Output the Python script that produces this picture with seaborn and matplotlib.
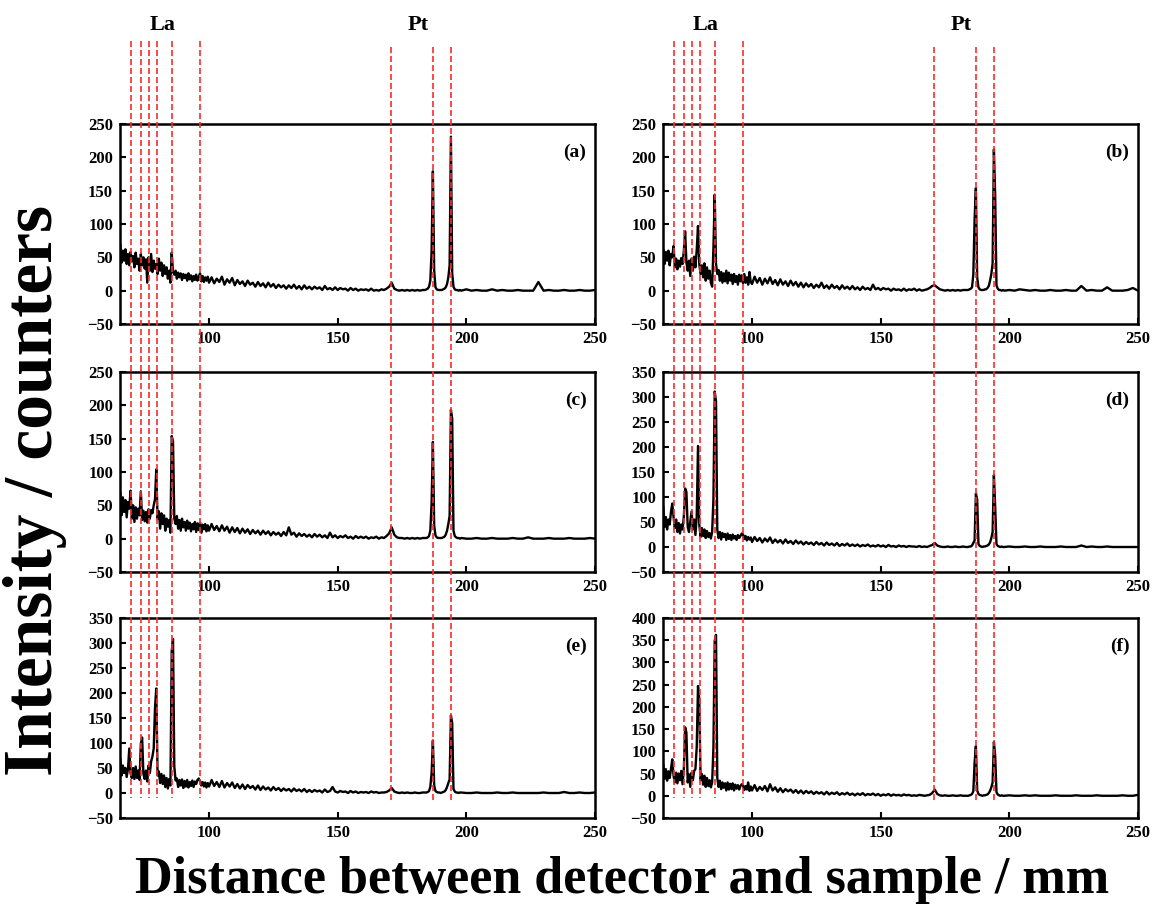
import numpy as np
import matplotlib
matplotlib.use("Agg")
import matplotlib.pyplot as plt
import matplotlib.transforms as mtransforms
from matplotlib.lines import Line2D
import seaborn as sns

# ---------------- data ----------------
# sampling positions of the spectra (distance, mm)
x_seg_a = np.arange(65.5, 100.0, 0.5)   # 69 points
x_seg_b = np.arange(100.0, 184.0, 1.0)  # 84 points
x_seg_c = np.arange(184.0, 198.0, 0.5)  # 28 points
x_seg_d = np.arange(198.0, 251.0, 2.0)  # 27 points
distance = np.concatenate([x_seg_a, x_seg_b, x_seg_c, x_seg_d])

intensity_a = [
    70, 42, 60, 45, 62, 40, 55, 38, 58, 44,
    52, 35, 57, 40, 48, 30, 55, 38, 50, 33,
    47, 12, 50, 30, 55, 28, 45, 33, 40, 25,
    48, 30, 42, 22, 38, 25, 35, 18, 30, 12,
    57, 28, 24, 30, 18, 27, 20, 26, 16, 25,
    19, 24, 15, 26, 17, 23, 14, 22, 16, 24,
    15, 21, 26, 14, 22, 13, 20, 15, 21,
    12, 20, 11, 18, 13, 21, 9, 17, 12, 19,
    8, 16, 10, 14, 7, 15, 9, 12, 6, 13,
    7, 11, 5, 12, 6, 10, 4, 9, 5, 8,
    3, 8, 4, 9, 3, 7, 2, 8, 3, 6,
    2, 6, 3, 5, 1, 7, 2, 4, 1, 5,
    1, 4, 2, 3, 0, 4, 1, 3, 0, 2,
    1, 2, 0, 3, 0, 1, 0, 2, 1, 3,
    6, 12, 3, 1, 0, 1, 0, 1, 0, 1,
    0, 1, 0, 1,
    1, 2, 3, 6, 15, 60, 179, 30, 5, 2,
    1, 1, 1, 1, 2, 3, 5, 10, 20, 38,
    231, 26, 6, 2, 1, 1, 0, 1,
    0, 2, 0, 1, 0, 0, 2, 0, 1, 0, 0, 1, 0, 0, 0, 13, 0, 1, 0, 0, 1, 0, 0, 1, 0, 0, 1,
]

intensity_b = [
    62, 40, 58, 45, 60, 38, 55, 50, 67, 35,
    48, 32, 45, 36, 49, 40, 60, 89, 42, 30,
    45, 22, 48, 30, 51, 35, 61, 97, 40, 25,
    38, 20, 41, 15, 35, 18, 30, 12, 6, 64,
    144, 40, 25, 31, 15, 28, 12, 26, 14, 30,
    11, 27, 15, 24, 10, 25, 13, 22, 9, 24,
    14, 23, 11, 25, 12, 20, 9, 28, 13,
    10, 21, 12, 19, 9, 18, 11, 20, 10, 16,
    8, 17, 9, 14, 7, 15, 8, 13, 6, 12,
    5, 11, 6, 10, 4, 9, 5, 12, 4, 8,
    3, 9, 4, 7, 2, 8, 3, 6, 2, 7,
    2, 5, 1, 6, 2, 4, 1, 9, 2, 4,
    1, 4, 2, 3, 0, 3, 1, 2, 0, 3,
    0, 2, 1, 3, 0, 2, 0, 1, 2, 4,
    7, 8, 5, 2, 1, 0, 1, 0, 1, 0,
    1, 0, 1, 1,
    1, 2, 3, 5, 24, 107, 154, 20, 5, 2,
    1, 1, 1, 2, 2, 4, 7, 15, 25, 41,
    212, 142, 8, 3, 1, 1, 0, 1,
    0, 1, 0, 2, 1, 0, 1, 0, 0, 1, 0, 0, 1, 0, 0, 7, 0, 1, 0, 0, 5, 0, 0, 0, 1, 4, 0,
]

intensity_c = [
    70, 35, 62, 40, 58, 32, 55, 45, 72, 30,
    50, 25, 47, 30, 45, 35, 71, 28, 42, 26,
    40, 24, 44, 30, 43, 38, 50, 59, 104, 30,
    41, 15, 38, 22, 35, 12, 30, 18, 28, 9,
    154, 146, 30, 22, 34, 15, 28, 12, 30, 17,
    25, 12, 27, 15, 24, 11, 22, 14, 25, 10,
    23, 13, 24, 9, 21, 14, 22, 11, 20,
    12, 22, 13, 19, 11, 20, 12, 18, 9, 17,
    10, 16, 8, 15, 9, 14, 7, 13, 8, 12,
    6, 12, 7, 11, 5, 10, 6, 9, 4, 10,
    5, 17, 6, 9, 3, 8, 4, 7, 3, 6,
    2, 7, 3, 6, 2, 5, 1, 9, 2, 5,
    1, 4, 2, 5, 1, 3, 0, 4, 1, 3,
    1, 3, 0, 2, 1, 3, 0, 2, 1, 4,
    8, 17, 6, 2, 1, 1, 0, 1, 0, 1,
    0, 1, 0, 1,
    1, 1, 2, 4, 12, 54, 145, 20, 5, 2,
    1, 1, 1, 1, 2, 3, 6, 12, 22, 34,
    193, 180, 12, 4, 2, 1, 1, 0,
    1, 0, 0, 1, 0, 0, 1, 0, 0, 0, 1, 0, 0, 2, 0, 0, 0, 1, 0, 0, 0, 1, 0, 0, 0, 1, 0,
]

intensity_d = [
    81, 40, 60, 35, 55, 45, 70, 87, 60, 38,
    55, 30, 48, 27, 45, 35, 61, 117, 110, 40,
    30, 50, 71, 35, 55, 24, 60, 202, 45, 20,
    38, 22, 35, 18, 32, 20, 28, 17, 30, 97,
    311, 291, 34, 18, 30, 15, 28, 20, 26, 14,
    27, 16, 24, 14, 25, 17, 22, 14, 24, 18,
    22, 27, 25, 16, 22, 13, 20, 15, 19,
    10, 20, 12, 18, 9, 17, 11, 19, 8, 15,
    9, 14, 7, 15, 8, 12, 6, 13, 7, 11,
    5, 10, 6, 9, 4, 10, 5, 8, 3, 9,
    4, 7, 3, 8, 2, 6, 3, 7, 2, 5,
    2, 5, 1, 4, 2, 5, 1, 3, 1, 4,
    1, 3, 0, 4, 1, 2, 0, 3, 1, 2,
    0, 2, 1, 1, 0, 2, 0, 1, 0, 2,
    4, 8, 3, 1, 0, 0, 1, 0, 0, 1,
    0, 0, 1, 0,
    0, 1, 1, 3, 8, 13, 107, 95, 6, 2,
    1, 0, 1, 1, 2, 3, 5, 9, 18, 30,
    144, 80, 6, 2, 1, 0, 1, 0,
    0, 1, 0, 0, 1, 0, 0, 1, 0, 0, 0, 1, 0, 0, 0, 3, 0, 1, 0, 0, 1, 0, 0, 0, 0, 0, 0,
]

intensity_e = [
    69, 35, 55, 40, 50, 32, 48, 89, 40, 30,
    50, 28, 53, 30, 45, 26, 99, 111, 38, 28,
    45, 23, 55, 40, 63, 73, 89, 171, 209, 35,
    43, 20, 38, 18, 35, 12, 30, 9, 28, 15,
    284, 308, 53, 25, 29, 12, 26, 15, 27, 10,
    24, 13, 26, 11, 22, 14, 25, 12, 23, 18,
    26, 29, 24, 15, 22, 13, 21, 11, 20,
    13, 26, 14, 22, 12, 24, 11, 20, 13, 21,
    10, 18, 9, 17, 8, 16, 10, 14, 7, 15,
    6, 13, 7, 11, 5, 12, 6, 10, 4, 9,
    5, 8, 3, 9, 4, 7, 3, 8, 2, 6,
    2, 6, 3, 5, 1, 7, 2, 4, 12, 3,
    1, 4, 2, 3, 0, 4, 1, 3, 0, 2,
    1, 2, 0, 3, 1, 2, 0, 1, 1, 2,
    5, 10, 3, 1, 0, 1, 0, 1, 0, 0,
    1, 0, 0, 1,
    1, 1, 2, 4, 12, 40, 105, 15, 4, 2,
    1, 1, 0, 1, 2, 3, 6, 12, 20, 27,
    155, 140, 8, 3, 1, 1, 0, 1,
    1, 0, 0, 1, 0, 0, 0, 1, 0, 0, 1, 0, 0, 0, 0, 0, 1, 0, 0, 0, 2, 0, 0, 1, 0, 0, 1,
]

intensity_f = [
    71, 38, 60, 34, 55, 40, 60, 82, 45, 30,
    52, 28, 50, 35, 56, 26, 60, 154, 142, 30,
    48, 20, 52, 35, 56, 60, 109, 247, 217, 35,
    49, 25, 45, 20, 40, 22, 35, 19, 30, 109,
    349, 362, 40, 20, 34, 15, 30, 18, 28, 12,
    30, 14, 27, 15, 28, 12, 25, 16, 24, 14,
    22, 26, 23, 13, 22, 14, 30, 11, 21,
    12, 24, 11, 20, 13, 22, 10, 26, 12, 19,
    9, 17, 8, 15, 10, 14, 7, 13, 6, 12,
    5, 11, 6, 10, 4, 9, 5, 8, 3, 9,
    3, 7, 4, 8, 2, 6, 3, 7, 2, 5,
    1, 5, 2, 6, 1, 4, 2, 5, 1, 4,
    0, 3, 1, 4, 0, 3, 1, 2, 0, 3,
    1, 2, 0, 1, 0, 2, 1, 0, 1, 2,
    6, 14, 4, 1, 0, 1, 0, 0, 1, 0,
    0, 1, 0, 0,
    0, 1, 2, 4, 10, 75, 112, 12, 4, 2,
    1, 0, 1, 1, 2, 3, 6, 11, 19, 30,
    121, 90, 8, 3, 1, 0, 1, 0,
    0, 1, 0, 0, 1, 0, 1, 0, 0, 0, 1, 0, 0, 0, 1, 0, 0, 0, 1, 0, 0, 0, 0, 1, 0, 0, 2,
]

panel_labels = ["(a)", "(b)", "(c)", "(d)", "(e)", "(f)"]
panel_series = [intensity_a, intensity_b, intensity_c, intensity_d, intensity_e, intensity_f]
panel_ymax = [250, 250, 250, 350, 350, 400]
x_ticks = [100, 150, 200, 250]

la_lines = [69.5, 73.4, 76.7, 79.6, 85.6, 96.5]
pt_lines = [170.8, 186.9, 194.2]
element_names = ["La", "Pt"]
element_pos = [82.1, 181.2]

# ---------------- style ----------------
sns.set_style("ticks")
plt.rcParams["font.family"] = ["Liberation Serif", "DejaVu Serif"]
plt.rcParams["font.weight"] = "bold"
plt.rcParams["axes.labelweight"] = "bold"
plt.rcParams["text.color"] = "black"
plt.rcParams["xtick.color"] = "black"
plt.rcParams["ytick.color"] = "black"
plt.rcParams["axes.labelcolor"] = "black"
plt.rcParams["axes.edgecolor"] = "black"

W, H = 1156, 908
fig = plt.figure(figsize=(W / 100, H / 100), dpi=100)

col_left = [120, 663]
row_top = [124, 372, 618]
ax_w, ax_h = 475, 200

axes = []
for i in range(6):
    r, c = divmod(i, 2)
    left = col_left[c] / W
    bottom = 1 - (row_top[r] + ax_h) / H
    ax = fig.add_axes([left, bottom, ax_w / W, ax_h / H])
    axes.append(ax)

for ax, ys, lab, ymax in zip(axes, panel_series, panel_labels, panel_ymax):
    assert len(ys) == len(distance)
    sns.lineplot(x=distance, y=np.asarray(ys, dtype=float), ax=ax, color="black",
                 lw=1.7, estimator=None, sort=False)
    ax.set_xlim(65.4, 250)
    ax.set_ylim(-50, ymax)
    ax.set_xticks(x_ticks)
    ax.set_yticks(list(range(-50, ymax + 1, 50)))
    ax.tick_params(direction="in", length=4, width=1.5, labelsize=12, pad=5,
                   top=False, right=False, colors="black", labelcolor="black")
    for lbl in ax.get_xticklabels() + ax.get_yticklabels():
        lbl.set_fontweight("bold")
    for s in ax.spines.values():
        s.set_linewidth(1.8)
        s.set_color("black")
    ax.set_xlabel("")
    ax.set_ylabel("")
    ax.text(0.982, 0.86, lab, transform=ax.transAxes, ha="right", va="center",
            fontsize=14, fontweight="bold", color="black")

# dashed guide lines spanning all rows, and element labels
red = "#ff2a2a"
for ax_top in (axes[0], axes[1]):
    trans = mtransforms.blended_transform_factory(ax_top.transData, fig.transFigure)
    for xv in la_lines:
        fig.add_artist(Line2D([xv, xv], [1 - 41 / H, 1 - 798 / H], transform=trans,
                              color=red, lw=1.2, ls=(0, (3.6, 1.8)), zorder=5))
    for xv in pt_lines:
        fig.add_artist(Line2D([xv, xv], [1 - 47 / H, 1 - 803 / H], transform=trans,
                              color=red, lw=1.2, ls=(0, (3.6, 1.8)), zorder=5))
    for name, xp in zip(element_names, element_pos):
        fig.text(xp, 1 - 25 / H, name, transform=trans, ha="center", va="center",
                 fontsize=16, fontweight="bold", color="black")

fig.text(0.030, 0.46, "Intensity / counters", rotation=90, ha="center", va="center",
         fontsize=50, fontweight="bold", color="black")
fig.text(0.538, 1 - 880 / H, "Distance between detector and sample / mm",
         ha="center", va="center", fontsize=37.5, fontweight="bold", color="black")

fig.savefig("out.png", dpi=100)
